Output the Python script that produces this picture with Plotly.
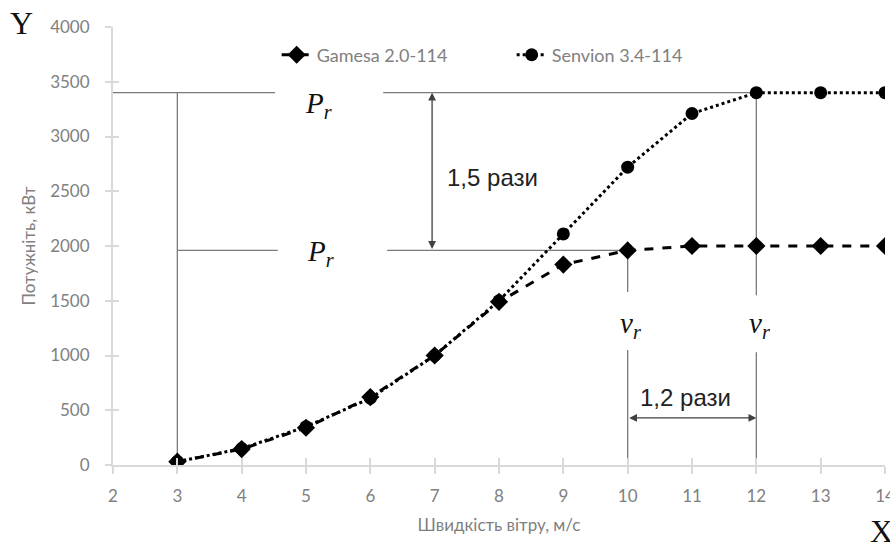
import plotly.graph_objects as go

# ---- data ----
wind_speed = [3, 4, 5, 6, 7, 8, 9, 10, 11, 12, 13, 14]
gamesa_kw = [30, 145, 340, 620, 1000, 1490, 1830, 1960, 2000, 2000, 2000, 2000]
senvion_kw = [30, 150, 350, 610, 1000, 1500, 2110, 2720, 3210, 3400, 3400, 3400]
series_names = ["Gamesa 2.0-114", "Senvion 3.4-114"]
x_ticks = list(range(2, 15))
y_ticks = list(range(0, 4001, 500))

# rated values taken from the series
v_r_gamesa = wind_speed[7]
v_r_senvion = wind_speed[9]
p_r_gamesa = gamesa_kw[7]
p_r_senvion = senvion_kw[9]
v_cut_in = wind_speed[0]

TICK_COLOR = "#808080"
AXIS_COLOR = "#d9d9d9"
GUIDE = "#7a7a7a"
FONT = "Lato"

fig = go.Figure()
fig.add_trace(go.Scatter(
    x=wind_speed, y=gamesa_kw, name=series_names[0], mode="lines+markers",
    line=dict(color="black", width=3, dash="dash"),
    marker=dict(symbol="diamond", size=14, color="black"),
))
fig.add_trace(go.Scatter(
    x=wind_speed, y=senvion_kw, name=series_names[1], mode="lines+markers",
    line=dict(color="black", width=3, dash="dot"),
    marker=dict(symbol="circle", size=13, color="black"),
))

def seg(x0, y0, x1, y1):
    fig.add_shape(type="line", x0=x0, y0=y0, x1=x1, y1=y1, xref="x", yref="y",
                  line=dict(color=GUIDE, width=1.3), layer="below")

# horizontal guides (with gaps for the labels)
seg(2, p_r_senvion, 4.52, p_r_senvion)
seg(6.2, p_r_senvion, v_r_senvion, p_r_senvion)
seg(v_cut_in, p_r_gamesa, 4.56, p_r_gamesa)
seg(6.26, p_r_gamesa, v_r_gamesa, p_r_gamesa)
# vertical guides
seg(v_cut_in, 0, v_cut_in, p_r_senvion)
seg(v_r_gamesa, p_r_gamesa, v_r_gamesa, 1580)
seg(v_r_gamesa, 1050, v_r_gamesa, 0)
seg(v_r_senvion, p_r_senvion, v_r_senvion, 1550)
seg(v_r_senvion, 1030, v_r_senvion, 0)

# double arrows
arrow_x = 6.96
arrow_y = 430
for (x, y, ax, ay) in [(arrow_x, p_r_senvion, arrow_x, p_r_gamesa),
                       (v_r_senvion, arrow_y, v_r_gamesa, arrow_y)]:
    fig.add_annotation(x=x, y=y, ax=ax, ay=ay, xref="x", yref="y", axref="x", ayref="y",
                       text="", showarrow=True, arrowhead=2, startarrowhead=2,
                       arrowside="end+start", arrowsize=1.2, startarrowsize=1.2,
                       arrowwidth=1.3, arrowcolor="#404040")

ann_font = dict(family="Liberation Sans, Arial", size=24, color="#222222")
fig.add_annotation(x=7.16, y=2630, xref="x", yref="y", text="1,5 рази", showarrow=False,
                   xanchor="left", yanchor="middle", font=ann_font)
fig.add_annotation(x=10.16, y=621, xref="x", yref="y", text="1,2 рази", showarrow=False,
                   xanchor="left", yanchor="middle", font=ann_font)

serif = dict(family="Liberation Serif, Times New Roman", size=29, color="#111111")
for (x, y) in [(5.2, 3290), (5.23, 1940)]:
    fig.add_annotation(x=x, y=y, xref="x", yref="y", text="<i>P<sub>r</sub></i>",
                       showarrow=False, xanchor="center", yanchor="middle", font=serif)
for x in [v_r_gamesa + 0.05, v_r_senvion + 0.05]:
    fig.add_annotation(x=x, y=1280, xref="x", yref="y", text="<i>v<sub>r</sub></i>",
                       showarrow=False, xanchor="center", yanchor="middle", font=serif)

big = dict(family="Liberation Serif, Times New Roman", size=32, color="#111111")
fig.add_annotation(x=-0.118, y=1.01, xref="paper", yref="paper", text="Y", showarrow=False,
                   xanchor="center", yanchor="middle", font=big)
fig.add_annotation(x=0.995, y=-0.15, xref="paper", yref="paper", text="X", showarrow=False,
                   xanchor="center", yanchor="middle", font=big)

fig.update_layout(
    width=890, height=543,
    margin=dict(l=113, r=5, t=27, b=78, autoexpand=False),
    paper_bgcolor="white", plot_bgcolor="white",
    font=dict(family=FONT, color=TICK_COLOR),
    showlegend=True,
    legend=dict(orientation="h", x=0.212, y=0.936, xanchor="left", yanchor="middle",
                font=dict(family=FONT, size=18, color=TICK_COLOR),
                bgcolor="rgba(0,0,0,0)", entrywidth=190, entrywidthmode="pixels"),
    xaxis=dict(range=[2, 14], tickvals=x_ticks, ticks="outside", ticklen=7, tickwidth=1.5,
               tickcolor=AXIS_COLOR, showline=True, linecolor=AXIS_COLOR, linewidth=2,
               showgrid=False, zeroline=False, ticklabeloverflow="allow", automargin=False,
               tickfont=dict(family=FONT, size=17, color=TICK_COLOR), ticklabelstandoff=8,
               title=dict(text="Швидкість вітру, м/с", standoff=14,
                          font=dict(family=FONT, size=17, color=TICK_COLOR))),
    yaxis=dict(range=[0, 4000], tickvals=y_ticks, ticks="outside", ticklen=6, tickwidth=1.5,
               tickcolor=AXIS_COLOR, showline=True, linecolor=AXIS_COLOR, linewidth=2,
               showgrid=False, zeroline=False, automargin=False,
               tickfont=dict(family=FONT, size=17, color=TICK_COLOR), ticklabelstandoff=12,
               title=dict(text="Потужніть, кВт", standoff=10,
                          font=dict(family=FONT, size=17, color=TICK_COLOR))),
    xaxis2=dict(overlaying="x", anchor="y", range=[2, 14], tickvals=x_ticks, ticks="inside",
                ticklen=7, tickwidth=1.5, tickcolor=AXIS_COLOR, showticklabels=False,
                showgrid=False, zeroline=False, showline=False, side="bottom", automargin=False),
    yaxis2=dict(overlaying="y", anchor="x", range=[0, 4000], tickvals=y_ticks, ticks="inside",
                ticklen=6, tickwidth=1.5, tickcolor=AXIS_COLOR, showticklabels=False,
                showgrid=False, zeroline=False, showline=False, side="left", automargin=False),
)
# invisible trace to activate the overlay axes (inner half of the crossing ticks)
fig.add_trace(go.Scatter(x=[2], y=[0], xaxis="x2", yaxis="y2", mode="markers",
                         marker=dict(opacity=0), showlegend=False, hoverinfo="skip"))

fig.write_html("out.html")
